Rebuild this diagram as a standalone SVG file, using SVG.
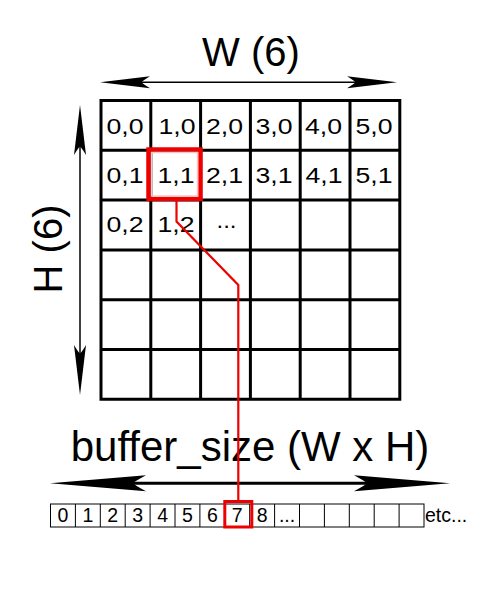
<svg xmlns="http://www.w3.org/2000/svg" xmlns:xlink="http://www.w3.org/1999/xlink" width="500" height="605" viewBox="0 0 500 605">
<style>
.t{font-family:"Liberation Sans",Arial,sans-serif;fill:#000}
.big{font-size:40px}
.cell{font-size:21.5px;text-anchor:middle}
.bcell{font-size:19.5px;text-anchor:middle}
.gl{fill:none;stroke:#000;stroke-width:3}
.bl{fill:#fff;stroke:#000;stroke-width:1}
.red{fill:none;stroke:#ee0000}
</style>
<defs>
<path id="headS" d="M0,0 L50,-6 Q42,-1.2 41.5,0 Q42,1.2 50,6 Z" fill="#000"/>
<path id="headL" d="M0,0 L96,-8 Q84,-1.5 83,0 Q84,1.5 96,8 Z" fill="#000"/>
</defs>
<rect width="500" height="605" fill="#fff"/>

<g id="width-label">
<text class="t big" x="251" y="66" text-anchor="middle">W (6)</text>
<line x1="110" y1="82.3" x2="387" y2="82.3" stroke="#000" stroke-width="1.5"/>
<use xlink:href="#headS" transform="translate(100,82.3)"/>
<use xlink:href="#headS" transform="translate(397,82.3) scale(-1,1)"/>
</g>

<g id="height-label">
<text class="t big" transform="translate(62,249) rotate(-90)" text-anchor="middle">H (6)</text>
<line x1="80" y1="115" x2="80" y2="385" stroke="#000" stroke-width="1.5"/>
<use xlink:href="#headS" transform="translate(80,105) rotate(90)"/>
<use xlink:href="#headS" transform="translate(80,395) rotate(-90)"/>
</g>

<g id="grid">
<path class="gl" d="M101,100.5H399.8V399.3H101Z M150.8,100.5V399.3 M200.6,100.5V399.3 M250.4,100.5V399.3 M300.2,100.5V399.3 M350,100.5V399.3 M101,150.3H399.8 M101,200.1H399.8 M101,249.9H399.8 M101,299.7H399.8 M101,349.5H399.8"/>
<g class="t cell">
<text x="125" y="133.5" textLength="37" lengthAdjust="spacingAndGlyphs">0,0</text>
<text x="177" y="133.5" textLength="37" lengthAdjust="spacingAndGlyphs">1,0</text>
<text x="224.5" y="133.5" textLength="37" lengthAdjust="spacingAndGlyphs">2,0</text>
<text x="274" y="133.5" textLength="37" lengthAdjust="spacingAndGlyphs">3,0</text>
<text x="323.5" y="133.5" textLength="37" lengthAdjust="spacingAndGlyphs">4,0</text>
<text x="374" y="133.5" textLength="37" lengthAdjust="spacingAndGlyphs">5,0</text>
<text x="125" y="183" textLength="37" lengthAdjust="spacingAndGlyphs">0,1</text>
<text x="176" y="183" textLength="37" lengthAdjust="spacingAndGlyphs">1,1</text>
<text x="224.5" y="183" textLength="37" lengthAdjust="spacingAndGlyphs">2,1</text>
<text x="274" y="183" textLength="37" lengthAdjust="spacingAndGlyphs">3,1</text>
<text x="324" y="183" textLength="37" lengthAdjust="spacingAndGlyphs">4,1</text>
<text x="374" y="183" textLength="37" lengthAdjust="spacingAndGlyphs">5,1</text>
<text x="125" y="231.5" textLength="37" lengthAdjust="spacingAndGlyphs">0,2</text>
<text x="176" y="231.5" textLength="37" lengthAdjust="spacingAndGlyphs">1,2</text>
<text x="226.5" y="227.5" textLength="20" lengthAdjust="spacingAndGlyphs">...</text>
</g>
</g>

<g id="buffer-label">
<text class="t" x="250" y="461" text-anchor="middle" font-size="42">buffer_size (W x H)</text>
<line x1="120" y1="483.3" x2="380" y2="483.3" stroke="#000" stroke-width="3"/>
<use xlink:href="#headL" transform="translate(50,483.3)"/>
<use xlink:href="#headL" transform="translate(450,483.3) scale(-1,1)"/>
</g>

<g id="buffer">
<rect class="bl" x="50.5" y="504" width="373.5" height="23"/>
<path d="M75.4,504V527 M100.3,504V527 M125.2,504V527 M150.1,504V527 M175,504V527 M199.9,504V527 M224.8,504V527 M249.7,504V527 M274.6,504V527 M299.5,504V527 M324.4,504V527 M349.3,504V527 M374.2,504V527 M399.1,504V527" stroke="#000" stroke-width="1" fill="none"/>
<g class="t bcell">
<text x="63" y="522.3">0</text>
<text x="87.9" y="522.3">1</text>
<text x="112.8" y="522.3">2</text>
<text x="137.7" y="522.3">3</text>
<text x="162.6" y="522.3">4</text>
<text x="187.5" y="522.3">5</text>
<text x="212.4" y="522.3">6</text>
<text x="237.3" y="522.3">7</text>
<text x="262.2" y="522.3">8</text>
<text x="287.1" y="522.3">...</text>
</g>
<text class="t" x="425" y="522.3" font-size="19.5">etc...</text>
</g>

<g id="highlight-cell">
<rect class="red" x="148.5" y="149.5" width="52" height="49.5" stroke-width="4.5"/>
<rect x="151.5" y="152.5" width="46" height="43.5" fill="none" stroke="#f6c6c6" stroke-width="1.5"/>
</g>
<g id="highlight-buffer">
<rect class="red" x="224.8" y="501.5" width="27" height="25.5" stroke-width="3"/>
</g>

<g id="connectors">
<polyline class="red" points="176.5,201 176.5,221.5 238.3,285 238.3,501" stroke-width="2.2"/>
</g>
</svg>
